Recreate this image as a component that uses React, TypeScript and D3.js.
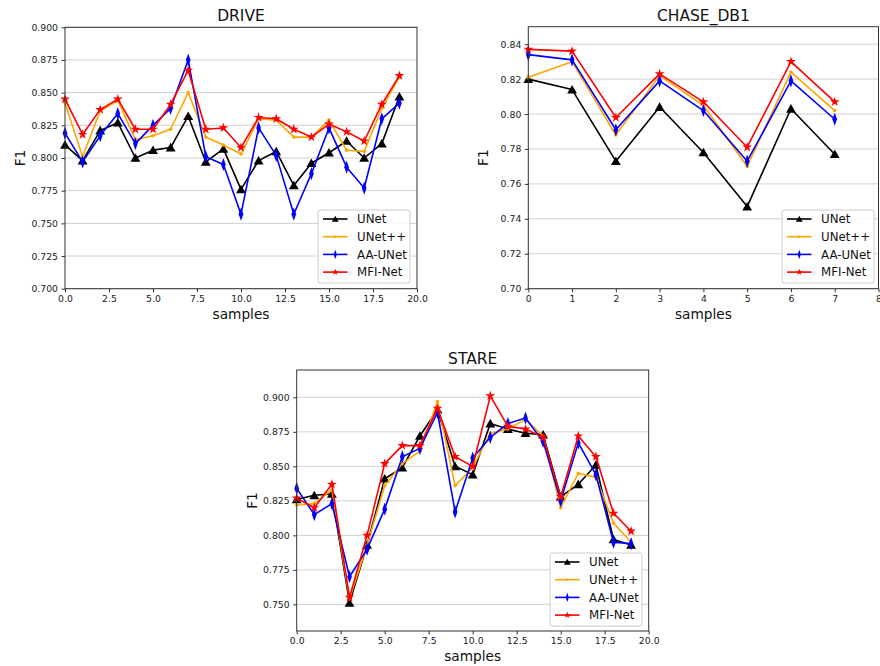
import { useEffect, useRef } from "react";
import * as d3 from "d3";

// DRIVE — 20 samples
const driveUNet = [0.810, 0.798, 0.821, 0.827, 0.800, 0.806, 0.808, 0.832, 0.797, 0.807, 0.776, 0.798, 0.805, 0.779, 0.796, 0.804, 0.813, 0.800, 0.811, 0.847];
const driveUNetPP = [0.842, 0.801, 0.836, 0.844, 0.814, 0.817, 0.822, 0.850, 0.816, 0.810, 0.803, 0.830, 0.829, 0.816, 0.816, 0.829, 0.806, 0.805, 0.838, 0.862];
const driveAAUNet = [0.819, 0.797, 0.817, 0.834, 0.811, 0.825, 0.838, 0.875, 0.801, 0.795, 0.757, 0.823, 0.802, 0.757, 0.788, 0.823, 0.793, 0.777, 0.830, 0.842];
const driveMFI = [0.845, 0.818, 0.837, 0.845, 0.822, 0.822, 0.841, 0.867, 0.822, 0.823, 0.808, 0.831, 0.830, 0.822, 0.816, 0.826, 0.820, 0.813, 0.841, 0.863];

// CHASE_DB1 — 8 samples
const chaseUNet = [0.820, 0.814, 0.773, 0.804, 0.778, 0.747, 0.803, 0.777];
const chaseUNetPP = [0.821, 0.830, 0.788, 0.822, 0.805, 0.770, 0.824, 0.802];
const chaseAAUNet = [0.834, 0.831, 0.791, 0.819, 0.802, 0.773, 0.819, 0.797];
const chaseMFI = [0.837, 0.836, 0.798, 0.823, 0.807, 0.781, 0.830, 0.807];

// STARE — 20 samples
const stareUNet = [0.826, 0.829, 0.830, 0.751, 0.793, 0.841, 0.849, 0.872, 0.891, 0.850, 0.844, 0.881, 0.877, 0.874, 0.873, 0.828, 0.837, 0.851, 0.797, 0.793];
const stareUNetPP = [0.822, 0.823, 0.833, 0.754, 0.793, 0.836, 0.852, 0.861, 0.897, 0.836, 0.849, 0.874, 0.877, 0.884, 0.872, 0.820, 0.845, 0.842, 0.809, 0.795];
const stareAAUNet = [0.834, 0.815, 0.823, 0.770, 0.790, 0.819, 0.857, 0.863, 0.889, 0.817, 0.856, 0.871, 0.881, 0.885, 0.868, 0.825, 0.867, 0.844, 0.795, 0.794];
const stareMFI = [0.827, 0.820, 0.837, 0.755, 0.800, 0.852, 0.865, 0.865, 0.892, 0.857, 0.850, 0.901, 0.879, 0.877, 0.871, 0.828, 0.872, 0.857, 0.816, 0.803];

const seriesNames = ["UNet", "UNet++", "AA-UNet", "MFI-Net"];
const seriesColors = ["#000000", "#ffa500", "#0000ff", "#ff0000"];
const seriesMarkers = ["triangle", "dot", "thinDiamond", "star"];

const driveYTicks = [0.7, 0.725, 0.75, 0.775, 0.8, 0.825, 0.85, 0.875, 0.9];
const stareYTicks = [0.75, 0.775, 0.8, 0.825, 0.85, 0.875, 0.9];
const chaseYTicks = [0.7, 0.72, 0.74, 0.76, 0.78, 0.8, 0.82, 0.84];
const xTicks20 = [0, 2.5, 5, 7.5, 10, 12.5, 15, 17.5, 20];
const xTicks8 = [0, 1, 2, 3, 4, 5, 6, 7, 8];

const FONT = "DejaVu Sans, sans-serif";

type PanelCfg = {
  title: string;
  left: number; right: number; top: number; bottom: number;
  xDomain: [number, number];
  yDomain: [number, number];
  xTicks: number[]; xFmt: (v: number) => string;
  yTicks: number[]; yFmt: (v: number) => string;
  series: number[][];
  legend: { x: number; y: number };
};

const panels: PanelCfg[] = [
  {
    title: "DRIVE", left: 65, right: 417, top: 27.3, bottom: 288.7,
    xDomain: [0, 20], yDomain: [0.7, 0.9],
    xTicks: xTicks20, xFmt: d3.format(".1f"),
    yTicks: driveYTicks, yFmt: d3.format(".3f"),
    series: [driveUNet, driveUNetPP, driveAAUNet, driveMFI],
    legend: { x: 318, y: 210 },
  },
  {
    title: "CHASE_DB1", left: 528.3, right: 878.5, top: 26.7, bottom: 288.7,
    xDomain: [0, 8], yDomain: [0.7, 0.85],
    xTicks: xTicks8, xFmt: d3.format("d"),
    yTicks: chaseYTicks, yFmt: d3.format(".2f"),
    series: [chaseUNet, chaseUNetPP, chaseAAUNet, chaseMFI],
    legend: { x: 782, y: 210 },
  },
  {
    title: "STARE", left: 296.7, right: 648.7, top: 370, bottom: 631,
    xDomain: [0, 20], yDomain: [0.7307, 0.9198],
    xTicks: xTicks20, xFmt: d3.format(".1f"),
    yTicks: stareYTicks, yFmt: d3.format(".3f"),
    series: [stareUNet, stareUNetPP, stareAAUNet, stareMFI],
    legend: { x: 550, y: 553 },
  },
];

function drawMarker(g: d3.Selection<SVGGElement, unknown, null, undefined>, kind: string, color: string, x: number, y: number, k = 1) {
  if (kind === "triangle") {
    g.append("path").attr("d", d3.symbol(d3.symbolTriangle, 42)())
      .attr("transform", `translate(${x},${y + k}) scale(${k})`).attr("fill", color);
  } else if (kind === "dot") {
    g.append("circle").attr("cx", x).attr("cy", y).attr("r", 1.8 * k).attr("fill", color);
  } else if (kind === "thinDiamond") {
    g.append("path").attr("d", d3.symbol(d3.symbolDiamond, 50)())
      .attr("transform", `translate(${x},${y}) scale(${0.62 * k},${k})`).attr("fill", color);
  } else if (kind === "star") {
    g.append("path").attr("d", d3.symbol(d3.symbolStar, 30)())
      .attr("transform", `translate(${x},${y}) scale(${k})`).attr("fill", color);
  }
}

export default function App() {
  const ref = useRef<SVGSVGElement | null>(null);

  useEffect(() => {
    const svg = d3.select(ref.current);
    svg.selectAll("*").remove();
    svg.append("rect").attr("width", 880).attr("height", 666).attr("fill", "#fff");

    panels.forEach((p) => {
      const g = svg.append("g");
      const x = d3.scaleLinear().domain(p.xDomain).range([p.left, p.right]);
      const y = d3.scaleLinear().domain(p.yDomain).range([p.bottom, p.top]);

      // grid
      g.selectAll(".grid").data(p.yTicks).join("line")
        .attr("x1", p.left).attr("x2", p.right)
        .attr("y1", (d) => y(d)).attr("y2", (d) => y(d))
        .attr("stroke", "#d0d0d0").attr("stroke-width", 1);

      // series
      p.series.forEach((vals, si) => {
        const line = d3.line<number>().x((_, i) => x(i)).y((d) => y(d));
        g.append("path").datum(vals).attr("d", line).attr("fill", "none")
          .attr("stroke", seriesColors[si]).attr("stroke-width", 1.6)
          .attr("stroke-linejoin", "round");
        const mg = g.append("g");
        vals.forEach((v, i) => drawMarker(mg, seriesMarkers[si], seriesColors[si], x(i), y(v)));
      });

      // frame
      g.append("rect").attr("x", p.left).attr("y", p.top)
        .attr("width", p.right - p.left).attr("height", p.bottom - p.top)
        .attr("fill", "none").attr("stroke", "#333").attr("stroke-width", 1);

      // axes
      const xAxis = d3.axisBottom(x).tickValues(p.xTicks).tickFormat((d) => p.xFmt(d as number)).tickSize(3.5).tickPadding(3);
      const xa = g.append("g").attr("transform", `translate(0,${p.bottom})`).call(xAxis);
      const yAxis = d3.axisLeft(y).tickValues(p.yTicks).tickFormat((d) => p.yFmt(d as number)).tickSize(3.5).tickPadding(3.5);
      const ya = g.append("g").attr("transform", `translate(${p.left},0)`).call(yAxis);
      [xa, ya].forEach((a) => {
        a.select(".domain").remove();
        a.selectAll("line").attr("stroke", "#333");
        a.selectAll("text").attr("font-family", FONT).attr("font-size", 9.3).attr("fill", "#222");
      });

      // labels
      g.append("text").attr("x", (p.left + p.right) / 2).attr("y", p.top - 6)
        .attr("text-anchor", "middle").attr("font-family", FONT).attr("font-size", 15.5)
        .attr("fill", "#111").text(p.title);
      g.append("text").attr("x", (p.left + p.right) / 2).attr("y", p.bottom + 30)
        .attr("text-anchor", "middle").attr("font-family", FONT).attr("font-size", 13.7)
        .attr("fill", "#111").text("samples");
      g.append("text").attr("transform", `translate(${p.left - 40},${(p.top + p.bottom) / 2}) rotate(-90)`)
        .attr("text-anchor", "middle").attr("font-family", FONT).attr("font-size", 13.7)
        .attr("fill", "#111").text("F1");

      // legend
      const lg = g.append("g").attr("transform", `translate(${p.legend.x},${p.legend.y})`);
      lg.append("rect").attr("width", 92).attr("height", 73).attr("rx", 2)
        .attr("fill", "#fff").attr("fill-opacity", 0.85).attr("stroke", "#ccc");
      seriesNames.forEach((name, si) => {
        const ry = 9 + si * 17.7;
        lg.append("line").attr("x1", 5).attr("x2", 29.5).attr("y1", ry).attr("y2", ry)
          .attr("stroke", seriesColors[si]).attr("stroke-width", 1.6);
        drawMarker(lg, seriesMarkers[si], seriesColors[si], 17.3, ry, 0.7);
        lg.append("text").attr("x", 39).attr("y", ry + 4.3).attr("font-family", FONT)
          .attr("font-size", 11.8).attr("fill", "#111").text(name);
      });
    });
  }, []);

  return (
    <svg ref={ref} width={880} height={666}
      style={{ position: "absolute", left: 0, top: 0, display: "block" }} />
  );
}
